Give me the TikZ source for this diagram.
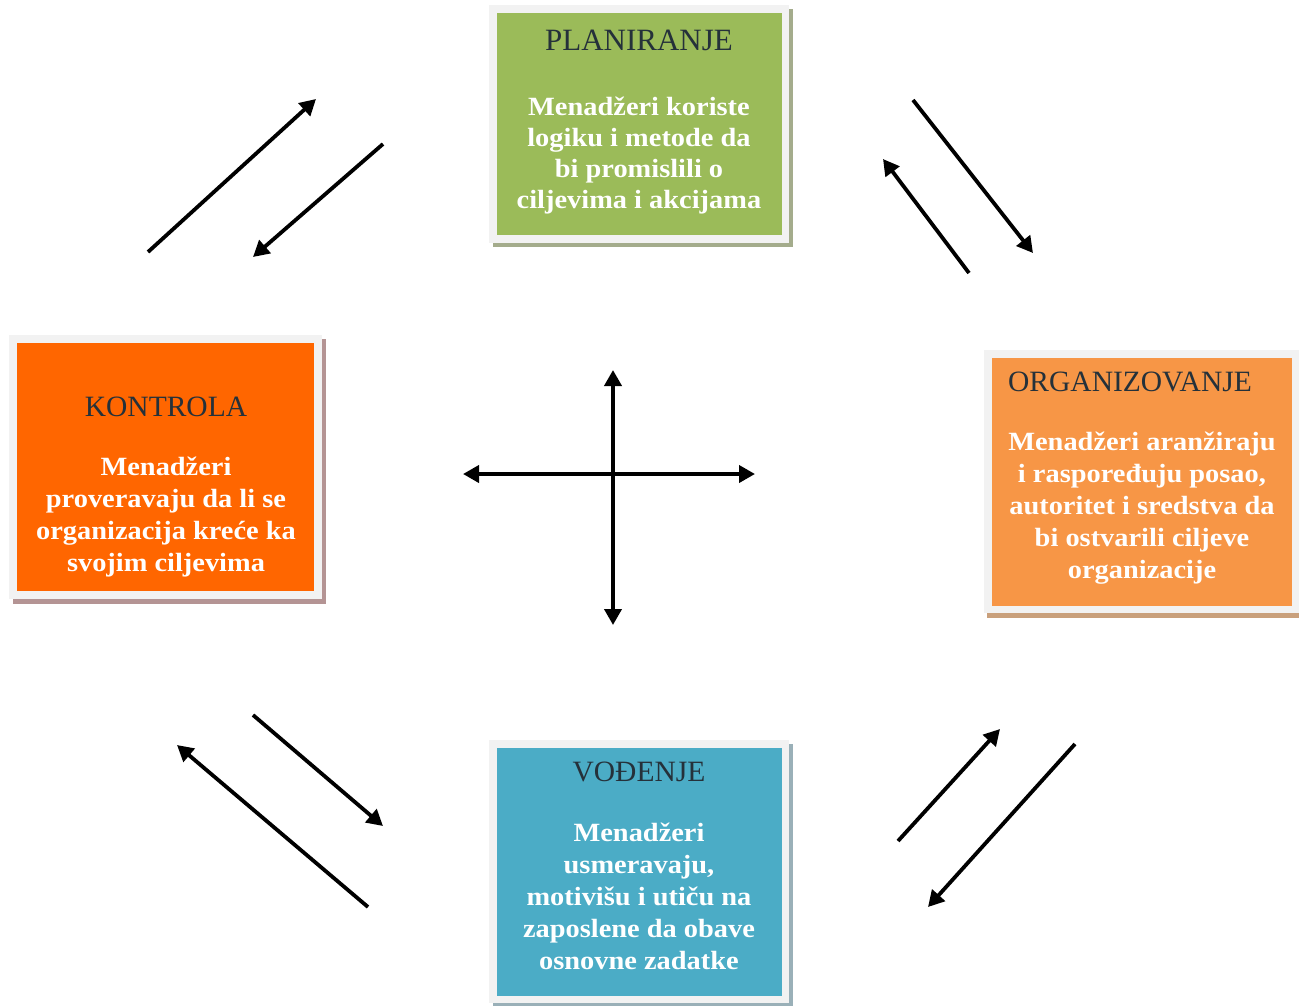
\documentclass[tikz,border=0pt]{standalone}
\usepackage{fontspec}
\setmainfont{Liberation Serif}
\newfontfamily\bodyfont[FakeStretch=1.08]{Liberation Serif Bold}
\usetikzlibrary{arrows.meta}
\definecolor{frm}{HTML}{F2F2F2}
\definecolor{cgreen}{HTML}{9BBB59}
\definecolor{sgreen}{HTML}{A4AC8C}
\definecolor{corg}{HTML}{F79646}
\definecolor{sorg}{HTML}{C9A07C}
\definecolor{ckon}{HTML}{FF6600}
\definecolor{skon}{HTML}{B49494}
\definecolor{cblue}{HTML}{4BACC6}
\definecolor{sblue}{HTML}{9AB0B8}
\definecolor{ttl}{HTML}{25313A}
\tikzset{
  titletext/.style={font=\fontsize{29.5}{32}\selectfont, text=ttl, inner sep=0pt},
  bodytext/.style={font=\bodyfont\fontsize{26.3}{32}\selectfont, text=white, align=center, inner sep=0pt},
  arr/.style={line width=3.8pt, -{Triangle[length=16pt,width=17pt]}},
  darr/.style={line width=3.8pt, {Triangle[length=16pt,width=17pt]}-{Triangle[length=16pt,width=17pt]}},
}
\begin{document}
\begin{tikzpicture}[x=1pt,y=-1pt]
\useasboundingbox (0,0) rectangle (1299,1005);
% PLANIRANJE
\fill[sgreen] (493,9) rectangle (793,247);
\fill[frm] (489,5) rectangle (789,243);
\fill[cgreen] (497,13) rectangle (782,235);
\node[titletext, font=\fontsize{31}{32}\selectfont] (plt) at (639,40) {PLANIRANJE};
\node[bodytext, font=\bodyfont\fontsize{26.3}{31}\selectfont] (plb) at (639,156) {Menadžeri koriste\\logiku i metode da\\bi promislili o\\ciljevima i akcijama};
% ORGANIZOVANJE
\fill[sorg] (987,354) rectangle (1299,618);
\fill[frm] (984,350) rectangle (1299,613);
\fill[corg] (992,358) rectangle (1292,606);
\node[titletext] (ort) at (1130,382) {ORGANIZOVANJE};
\node[bodytext] (orb) at (1142,508) {Menadžeri aranžiraju\\i raspoređuju posao,\\autoritet i sredstva da\\bi ostvarili ciljeve\\organizacije};
% KONTROLA
\fill[skon] (13,339) rectangle (326,604);
\fill[frm] (9,335) rectangle (322,599);
\fill[ckon] (17,343) rectangle (314,591);
\node[titletext] (kot) at (166,407) {KONTROLA};
\node[bodytext] (kob) at (166,517) {Menadžeri\\proveravaju da li se\\organizacija kreće ka\\svojim ciljevima};
% VOĐENJE
\fill[sblue] (493,744) rectangle (793,1008);
\fill[frm] (489,740) rectangle (789,1003);
\fill[cblue] (497,748) rectangle (782,996);
\node[titletext] (vot) at (639,772) {VOĐENJE};
\node[bodytext] (vob) at (639,896) {Menadžeri\\usmeravaju,\\motivišu i utiču na\\zaposlene da obave\\osnovne zadatke};
% arrow end points
\coordinate (a1s) at (148,252); \coordinate (a1e) at (316,99);
\coordinate (a2s) at (383,144); \coordinate (a2e) at (253,257);
\coordinate (a3s) at (913,100); \coordinate (a3e) at (1033,253);
\coordinate (a4s) at (969,273); \coordinate (a4e) at (883,159);
\coordinate (a5s) at (253,715); \coordinate (a5e) at (383,826);
\coordinate (a6s) at (368,907); \coordinate (a6e) at (177,745);
\coordinate (a7s) at (898,841); \coordinate (a7e) at (1000,729);
\coordinate (a8s) at (1075,744); \coordinate (a8e) at (928,907);
\coordinate (ct) at (613,370); \coordinate (cb) at (613,625);
\coordinate (cl) at (463,474); \coordinate (cr) at (755,474);
\draw[arr] (a1s) -- (a1e);
\draw[arr] (a2s) -- (a2e);
\draw[arr] (a3s) -- (a3e);
\draw[arr] (a4s) -- (a4e);
\draw[arr] (a5s) -- (a5e);
\draw[arr] (a6s) -- (a6e);
\draw[arr] (a7s) -- (a7e);
\draw[arr] (a8s) -- (a8e);
\draw[darr] (ct) -- (cb);
\draw[darr] (cl) -- (cr);
\end{tikzpicture}
\end{document}
